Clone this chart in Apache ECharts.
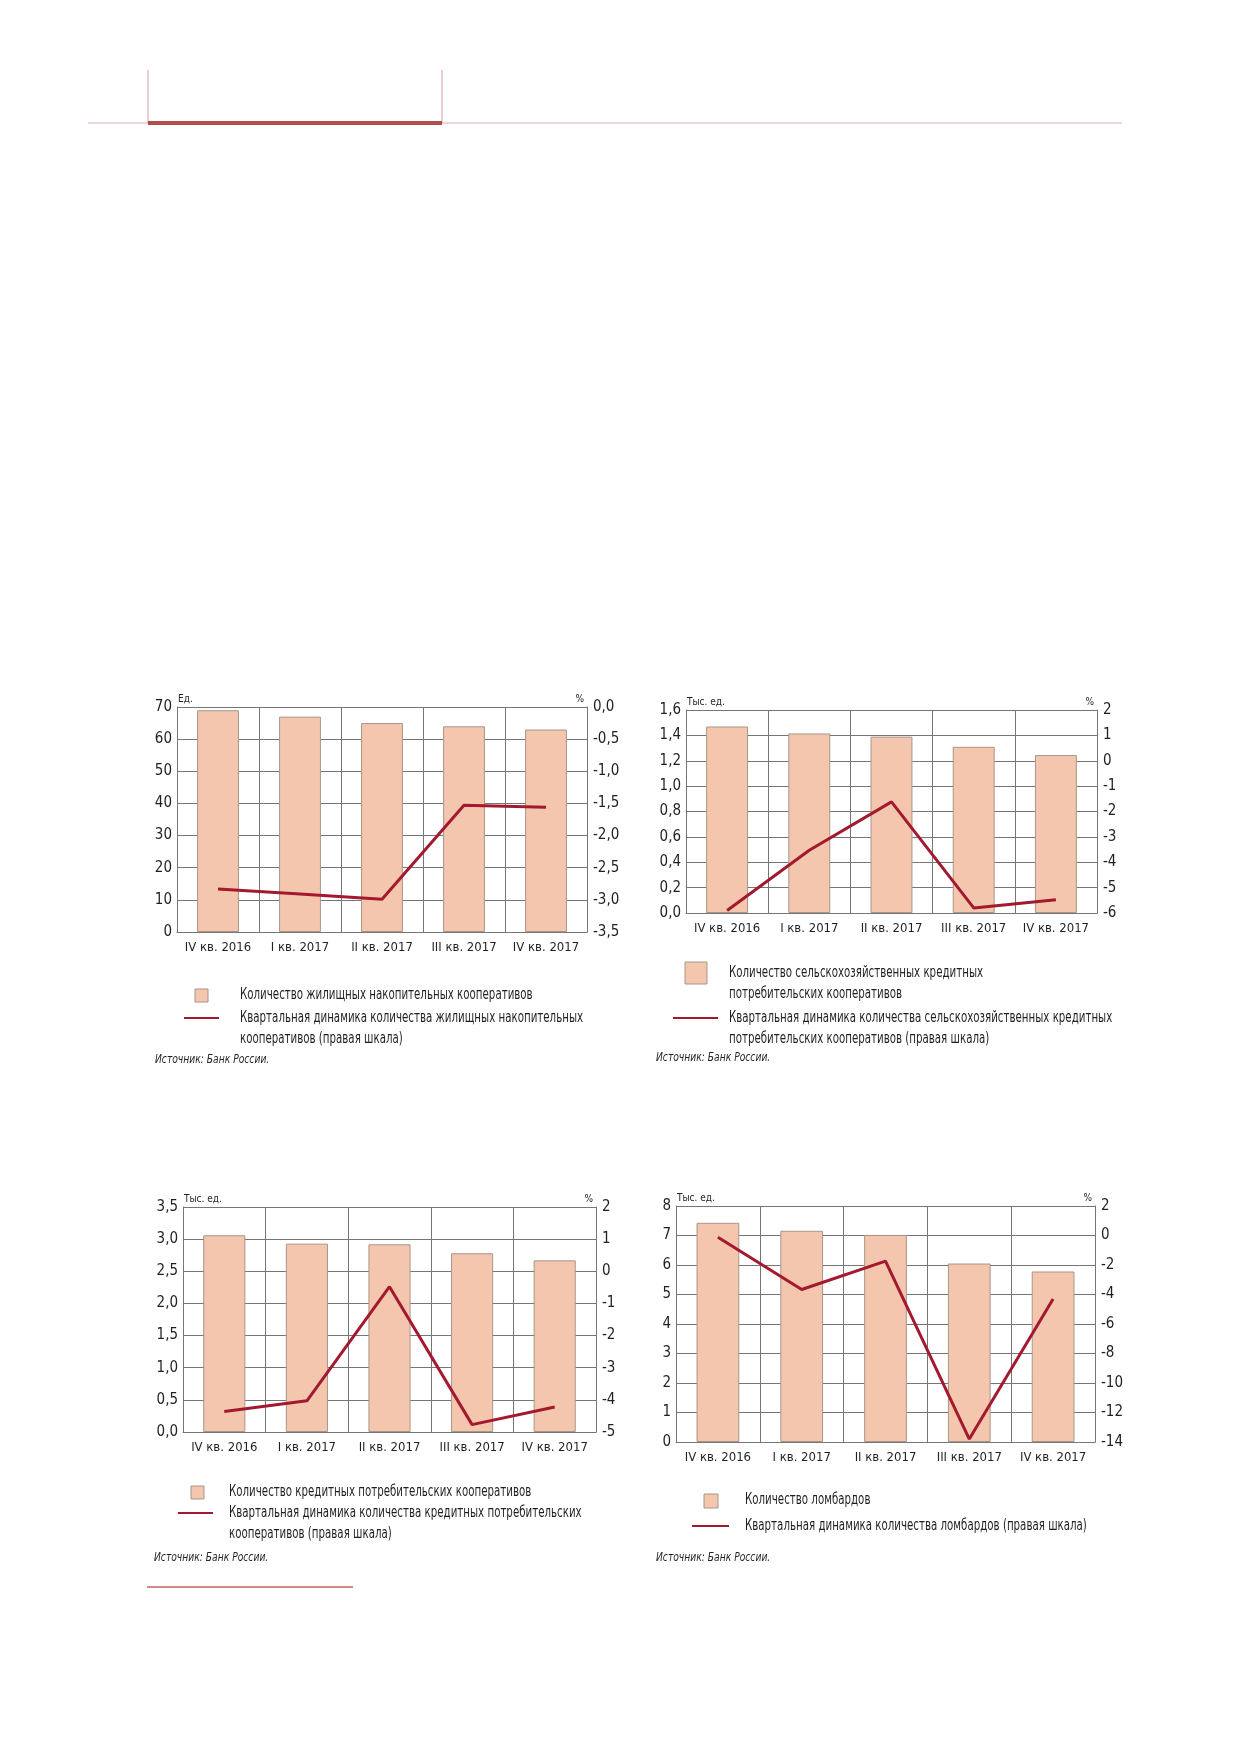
<!DOCTYPE html>
<html>
<head>
<meta charset="utf-8">
<script src="https://cdn.jsdelivr.net/npm/echarts@6/dist/echarts.min.js"></script>
</head>
<body style="margin:0; background:#fff">
<div id="container" style="width:1239px; height:1752px"></div>
<script type="text/javascript">
// quarters on x axis
var categories = ['IV кв. 2016', 'I кв. 2017', 'II кв. 2017', 'III кв. 2017', 'IV кв. 2017'];

// housing savings cooperatives, units / % q-o-q
var housingCount = [69, 67, 65, 64, 63];
var housingChange = [-2.83, -2.91, -2.99, -1.53, -1.56];
// agricultural credit consumer cooperatives, thousand units / %
var agriCount = [1.47, 1.415, 1.39, 1.31, 1.245];
var agriChange = [-5.9, -3.53, -1.62, -5.8, -5.48];
// credit consumer cooperatives, thousand units / %
var creditCount = [3.06, 2.93, 2.92, 2.78, 2.67];
var creditChange = [-4.36, -4.03, -0.48, -4.77, -4.22];
// pawnshops, thousand units / %
var pawnCount = [7.43, 7.16, 7.02, 6.05, 5.78];
var pawnChange = [-0.12, -3.66, -1.74, -13.8, -4.31];

var barNames = [
    'Количество жилищных накопительных кооперативов',
    'Количество сельскохозяйственных кредитных\nпотребительских кооперативов',
    'Количество кредитных потребительских кооперативов',
    'Количество ломбардов'
];
var lineNames = [
    'Квартальная динамика количества жилищных накопительных\nкооперативов (правая шкала)',
    'Квартальная динамика количества сельскохозяйственных кредитных\nпотребительских кооперативов (правая шкала)',
    'Квартальная динамика количества кредитных потребительских\nкооперативов (правая шкала)',
    'Квартальная динамика количества ломбардов (правая шкала)'
];
var unitNames = ['Ед.', 'Тыс. ед.', 'Тыс. ед.', 'Тыс. ед.'];

var FONT = "'DejaVu Sans Condensed', 'Roboto', sans-serif";
var TEXT = '#231f20';
var GRIDC = '#767676';
var BAR = '#f3c6ad';
var BARLINE = '#a8968a';
var LINE = '#a3192f';

var charts = [
    {bars: housingCount, line: housingChange, grid: {left: 177, top: 707, width: 410, height: 225},
     left: {min: 0, max: 70, interval: 10, dec: 0}, right: {min: -3.5, max: 0, interval: 0.5, dec: 1}},
    {bars: agriCount, line: agriChange, grid: {left: 686, top: 710, width: 411, height: 203},
     left: {min: 0, max: 1.6, interval: 0.2, dec: 1}, right: {min: -6, max: 2, interval: 1, dec: 0}},
    {bars: creditCount, line: creditChange, grid: {left: 183, top: 1207, width: 413, height: 225},
     left: {min: 0, max: 3.5, interval: 0.5, dec: 1}, right: {min: -5, max: 2, interval: 1, dec: 0}},
    {bars: pawnCount, line: pawnChange, grid: {left: 676, top: 1206, width: 419, height: 236},
     left: {min: 0, max: 8, interval: 1, dec: 0}, right: {min: -14, max: 2, interval: 2, dec: 0}}
];

function fmt(dec) {
    return function (v) { return v.toFixed(dec).replace('.', ','); };
}

var option = {
    animation: false,
    backgroundColor: '#fff',
    textStyle: {fontFamily: FONT},
    grid: [], xAxis: [], yAxis: [], series: []
};

charts.forEach(function (c, i) {
    option.grid.push(c.grid);
    option.xAxis.push({
        type: 'category', gridIndex: i, data: categories,
        axisLine: {lineStyle: {color: GRIDC, width: 1}},
        axisTick: {show: false},
        axisLabel: {interval: 0, color: TEXT, fontSize: 13, margin: 9, fontFamily: FONT},
        splitLine: {show: true, interval: 0, lineStyle: {color: GRIDC, width: 1}}
    });
    option.yAxis.push({
        type: 'value', gridIndex: i, min: c.left.min, max: c.left.max, interval: c.left.interval,
        name: unitNames[i], nameLocation: 'end', nameGap: 3,
        nameTextStyle: {align: 'left', verticalAlign: 'bottom', fontSize: 10, color: TEXT, fontFamily: FONT, padding: [0, 0, 0, 1]},
        axisLine: {show: true, lineStyle: {color: GRIDC}},
        axisTick: {show: false},
        axisLabel: {color: TEXT, fontSize: 15, margin: 5, formatter: fmt(c.left.dec), fontFamily: FONT},
        splitLine: {lineStyle: {color: GRIDC, width: 1}}
    });
    option.yAxis.push({
        type: 'value', gridIndex: i, position: 'right', min: c.right.min, max: c.right.max, interval: c.right.interval,
        name: '%', nameLocation: 'end', nameGap: 3,
        nameTextStyle: {align: 'right', verticalAlign: 'bottom', fontSize: 10, color: TEXT, fontFamily: FONT, padding: [0, 3, 0, 0]},
        axisLine: {show: true, lineStyle: {color: GRIDC}},
        axisTick: {show: false},
        axisLabel: {color: TEXT, fontSize: 15, margin: 6, formatter: fmt(c.right.dec), fontFamily: FONT},
        splitLine: {show: false}
    });
    option.series.push({
        name: barNames[i], type: 'bar', xAxisIndex: i, yAxisIndex: i * 2, data: c.bars,
        barWidth: '51%',
        itemStyle: {color: BAR, borderColor: BARLINE, borderWidth: 1}
    });
    option.series.push({
        name: lineNames[i], type: 'line', xAxisIndex: i, yAxisIndex: i * 2 + 1, data: c.line,
        symbol: 'none', z: 5,
        lineStyle: {color: LINE, width: 3}
    });
});

// legend blocks placed under each panel
var legendPos = [
    {sq: [195, 989, 13], barText: [240, 995], ln: [184, 219, 1018], lineText: [240, 1018], src: [155, 1060]},
    {sq: [685, 962, 22], barText: [729, 973], ln: [673, 718, 1018], lineText: [729, 1018], src: [656, 1058]},
    {sq: [191, 1486, 13], barText: [229, 1492], ln: [178, 213, 1513], lineText: [229, 1513], src: [154, 1558]},
    {sq: [704, 1494, 14], barText: [745, 1500], ln: [692, 729, 1526], lineText: [745, 1526], src: [656, 1558]}
];
var LH = 21;
var SX = 0.76;  // narrow the legend type to the condensed look of the original
var graphic = [];
legendPos.forEach(function (p, i) {
    graphic.push({type: 'rect', shape: {x: p.sq[0], y: p.sq[1], width: p.sq[2], height: p.sq[2]},
        style: {fill: BAR, stroke: BARLINE, lineWidth: 1}});
    graphic.push({type: 'text', x: p.barText[0], y: p.barText[1] - LH / 2, scaleX: SX,
        style: {text: barNames[i], fill: TEXT, fontSize: 15, fontFamily: FONT, lineHeight: LH, verticalAlign: 'top'}});
    graphic.push({type: 'line', shape: {x1: p.ln[0], y1: p.ln[2], x2: p.ln[1], y2: p.ln[2]},
        style: {stroke: LINE, lineWidth: 2}});
    graphic.push({type: 'text', x: p.lineText[0], y: p.lineText[1] - LH / 2, scaleX: SX,
        style: {text: lineNames[i], fill: TEXT, fontSize: 15, fontFamily: FONT, lineHeight: LH, verticalAlign: 'top'}});
    graphic.push({type: 'text', x: p.src[0], y: p.src[1], scaleX: 0.85,
        style: {text: 'Источник: Банк России.', fill: TEXT, fontSize: 12, fontStyle: 'italic', fontFamily: FONT, verticalAlign: 'middle'}});
});

// page decoration: header rule and footnote rule
graphic.push({type: 'line', shape: {x1: 88, y1: 123, x2: 1122, y2: 123}, style: {stroke: '#e6c9ce', lineWidth: 1.5}});
graphic.push({type: 'line', shape: {x1: 148, y1: 70, x2: 148, y2: 123}, style: {stroke: '#d8b0b2', lineWidth: 1.2}});
graphic.push({type: 'line', shape: {x1: 442, y1: 70, x2: 442, y2: 123}, style: {stroke: '#d8b0b2', lineWidth: 1.2}});
graphic.push({type: 'line', shape: {x1: 148, y1: 123, x2: 442, y2: 123}, style: {stroke: '#b04e4c', lineWidth: 4}});
graphic.push({type: 'line', shape: {x1: 147, y1: 1587, x2: 353, y2: 1587}, style: {stroke: '#c4625e', lineWidth: 1.3}});

option.graphic = graphic;

var myChart = echarts.init(document.getElementById('container'));
myChart.setOption(option);
</script>
</body>
</html>
